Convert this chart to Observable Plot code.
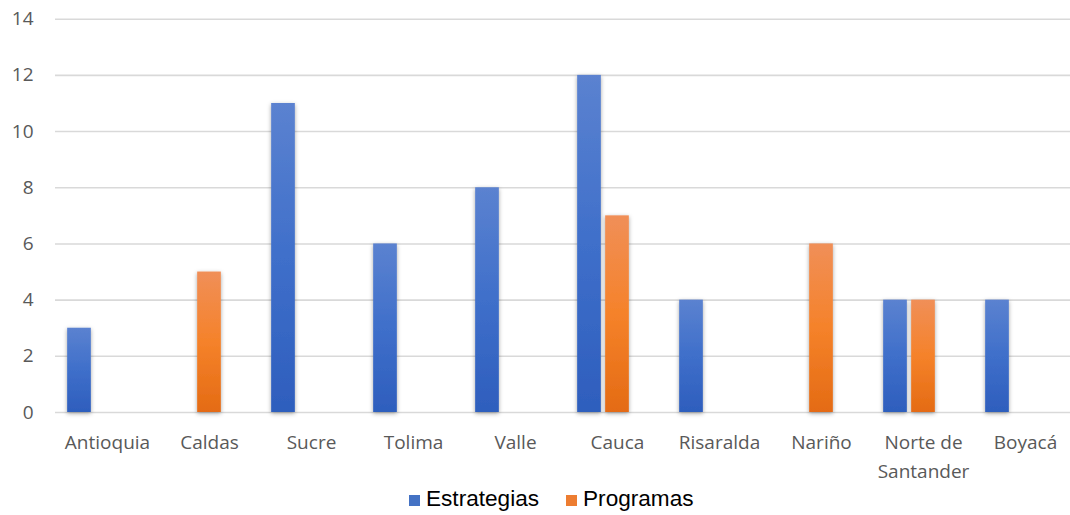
<!DOCTYPE html>
<html>
<head>
<meta charset="utf-8">
<script src="https://cdn.jsdelivr.net/npm/d3@7"></script>
<script src="https://cdn.jsdelivr.net/npm/@observablehq/plot@0.6"></script>
<style>
  html, body { margin: 0; padding: 0; background: #fff; }
  #wrap { position: relative; width: 1070px; height: 515px; overflow: hidden; }
  #legend { position: absolute; left: 409px; top: 486px; display: flex; align-items: center;
            font-family: "Liberation Sans", Arial, sans-serif; font-size: 22.6px; color: #000; white-space: nowrap; }
  #legend .sw { width: 11px; height: 11px; display: inline-block; margin-right: 6px; margin-top: 3px; }
  #legend .item { display: flex; align-items: center; margin-right: 27px; }
</style>
</head>
<body>
<div id="wrap"><div id="chart"></div><div id="legend"></div></div>
<script>
const categories = ["Antioquia", "Caldas", "Sucre", "Tolima", "Valle", "Cauca", "Risaralda", "Nariño", "Norte de Santander", "Boyacá"];
const categoryLabels = ["Antioquia", "Caldas", "Sucre", "Tolima", "Valle", "Cauca", "Risaralda", "Nariño", "Norte de\nSantander", "Boyacá"];
const estrategias = [3, 0, 11, 6, 8, 12, 4, 0, 4, 4];
const programas   = [0, 5, 0, 0, 0, 7, 0, 6, 4, 0];
const seriesNames = ["Estrategias", "Programas"];
const seriesColors = ["#4472c4", "#ed7d31"];
const yTicks = [0, 2, 4, 6, 8, 10, 12, 14];

const estData = categories.map((c, i) => ({category: c, value: estrategias[i]})).filter(d => d.value > 0);
const proData = categories.map((c, i) => ({category: c, value: programas[i]})).filter(d => d.value > 0);

const x0 = 54.5, x1 = 1077.7;
const bw = (x1 - x0) / categories.length;
const barW = 24, step = 28;
const blueLeft = bw / 2 - step - barW / 2;
const orangeLeft = bw / 2 - barW / 2;

const chart = Plot.plot({
  width: 1070,
  height: 475,
  marginTop: 18.7,
  marginBottom: 63,
  marginLeft: 55,
  marginRight: 0,
  style: {fontFamily: "'Open Sans', sans-serif", fontSize: "19px", color: "#595959", background: "transparent", overflow: "visible"},
  x: {type: "band", domain: categories, range: [x0, x1], padding: 0, axis: null},
  y: {domain: [0, 14], ticks: yTicks, axis: null},
  marks: [
    Plot.ruleY(yTicks, {stroke: "#d9d9d9", strokeWidth: 1.6}),
    Plot.axisY(yTicks, {tickSize: 0, tickPadding: 22, fontSize: 19, fill: "#595959", label: null}),
    Plot.barY(estData, {x: "category", y: "value", fill: "url(#gradBlue)", insetLeft: blueLeft, insetRight: bw - blueLeft - barW}),
    Plot.barY(proData, {x: "category", y: "value", fill: "url(#gradOrange)", insetLeft: orangeLeft, insetRight: bw - orangeLeft - barW}),
    Plot.text(categories, {x: d => d, frameAnchor: "bottom", dy: 16, lineAnchor: "top", lineHeight: 1.53,
      text: (d, i) => categoryLabels[i], fill: "#595959", fontSize: 19})
  ]
});

const svg = d3.select(chart);
const defs = svg.insert("defs", ":first-child");
const gb = defs.append("linearGradient").attr("id", "gradBlue").attr("x1", 0).attr("y1", 0).attr("x2", 0).attr("y2", 1);
gb.append("stop").attr("offset", "0%").attr("stop-color", "#5b82d0");
gb.append("stop").attr("offset", "50%").attr("stop-color", "#3f6fca");
gb.append("stop").attr("offset", "100%").attr("stop-color", "#2e5ebd");
const go = defs.append("linearGradient").attr("id", "gradOrange").attr("x1", 0).attr("y1", 0).attr("x2", 0).attr("y2", 1);
go.append("stop").attr("offset", "0%").attr("stop-color", "#f08f58");
go.append("stop").attr("offset", "50%").attr("stop-color", "#f5822a");
go.append("stop").attr("offset", "100%").attr("stop-color", "#e46b14");
const f = defs.append("filter").attr("id", "shadow").attr("x", "-50%").attr("y", "-10%").attr("width", "200%").attr("height", "120%");
f.append("feDropShadow").attr("dx", 0).attr("dy", 1.5).attr("stdDeviation", 2).attr("flood-color", "#000").attr("flood-opacity", 0.35);
svg.selectAll("g[aria-label='bar']").attr("filter", "url(#shadow)");

document.getElementById("chart").appendChild(chart);

const legend = d3.select("#legend");
seriesNames.forEach((name, i) => {
  const item = legend.append("div").attr("class", "item");
  item.append("span").attr("class", "sw").style("background", seriesColors[i]);
  item.append("span").text(name);
});
</script>
</body>
</html>
